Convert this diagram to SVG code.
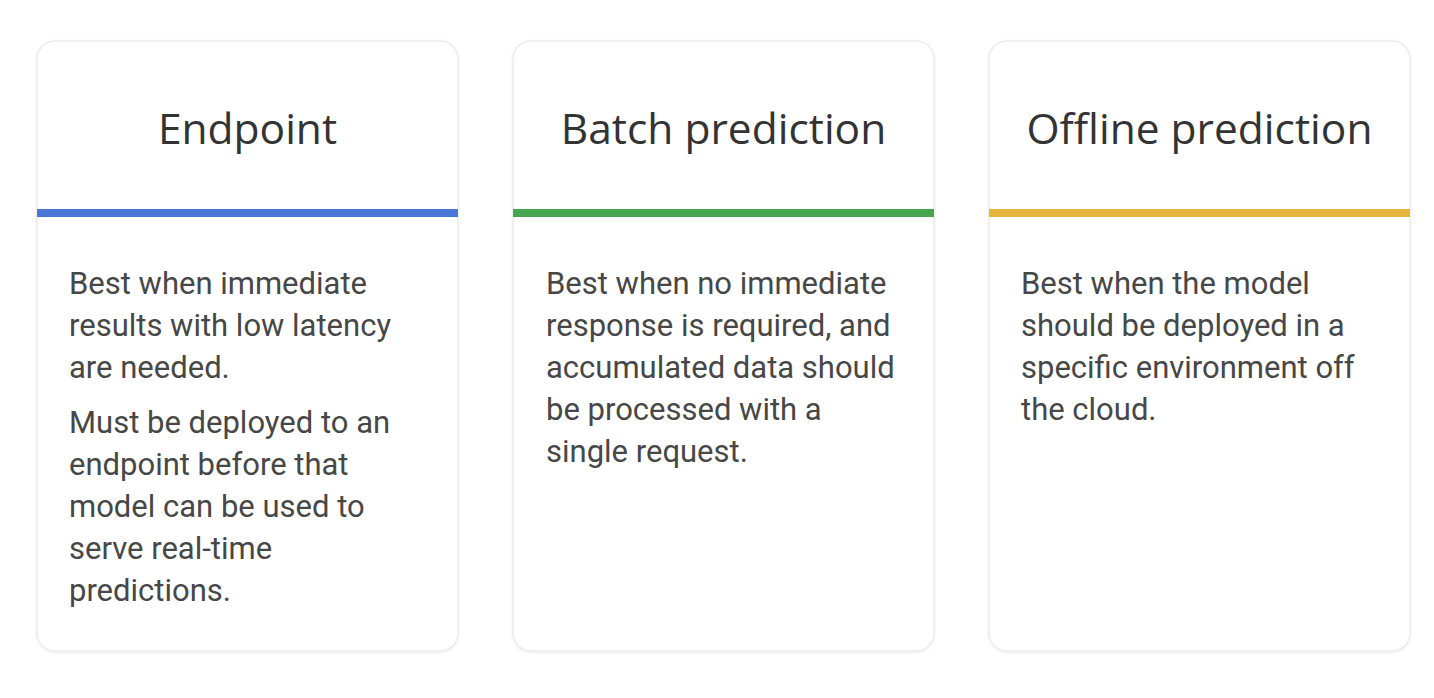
<svg xmlns="http://www.w3.org/2000/svg" width="1434" height="698" viewBox="0 0 1434 698">
<style>
.card{fill:#ffffff;stroke:#ececec;stroke-width:1.5}
.title{font-family:"Open Sans","Liberation Sans",sans-serif;font-size:42.5px;font-weight:500;fill:#333333;text-anchor:middle}
.body{font-family:Roboto,"Liberation Sans",sans-serif;font-size:31px;fill:#474747}
.bar{stroke:none}
</style>
<defs>
<filter id="sh" x="-5%" y="-5%" width="110%" height="110%">
<feDropShadow dx="0" dy="1" stdDeviation="1.5" flood-color="#000" flood-opacity="0.08"/>
</filter>
</defs>
<rect width="1434" height="698" fill="#ffffff"/>
<g id="card-endpoint">
<rect class="card" x="37" y="41" width="421" height="610" rx="18" filter="url(#sh)"/>
<rect class="bar" x="37" y="209" width="421" height="8" fill="#4a76d8"/>
<text class="title" x="247.5" y="144">Endpoint</text>
<text class="body"><tspan x="69" y="294">Best when immediate</tspan><tspan x="69" y="336">results with low latency</tspan><tspan x="69" y="378">are needed.</tspan><tspan x="69" y="433">Must be deployed to an</tspan><tspan x="69" y="475">endpoint before that</tspan><tspan x="69" y="517">model can be used to</tspan><tspan x="69" y="559">serve real-time</tspan><tspan x="69" y="601">predictions.</tspan></text>
</g>
<g id="card-batch">
<rect class="card" x="513" y="41" width="421" height="610" rx="18" filter="url(#sh)"/>
<rect class="bar" x="513" y="209" width="421" height="8" fill="#45a64f"/>
<text class="title" x="723.5" y="144">Batch prediction</text>
<text class="body"><tspan x="546" y="294">Best when no immediate</tspan><tspan x="546" y="336">response is required, and</tspan><tspan x="546" y="378">accumulated data should</tspan><tspan x="546" y="420">be processed with a</tspan><tspan x="546" y="462">single request.</tspan></text>
</g>
<g id="card-offline">
<rect class="card" x="989" y="41" width="421" height="610" rx="18" filter="url(#sh)"/>
<rect class="bar" x="989" y="209" width="421" height="8" fill="#e6b53c"/>
<text class="title" x="1199.5" y="144">Offline prediction</text>
<text class="body"><tspan x="1021" y="294">Best when the model</tspan><tspan x="1021" y="336">should be deployed in a</tspan><tspan x="1021" y="378">specific environment off</tspan><tspan x="1021" y="420">the cloud.</tspan></text>
</g>
<g id="connectors"></g>
</svg>
